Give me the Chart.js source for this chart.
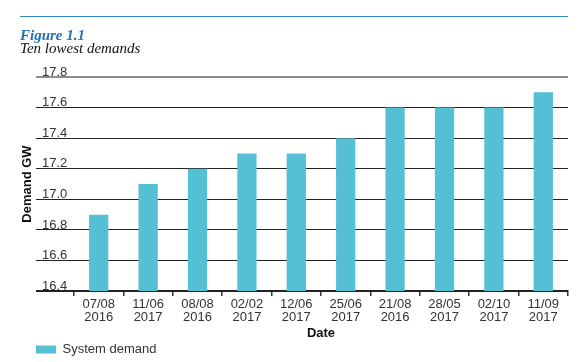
<!DOCTYPE html>
<html>
<head>
<meta charset="utf-8">
<script src="https://cdn.jsdelivr.net/npm/chart.js@4.4.0/dist/chart.umd.min.js"></script>
<style>
  html, body { margin: 0; padding: 0; background: #fff; }
  #wrap { position: relative; width: 586px; height: 362px; }
  #head { position: absolute; left: 20px; top: 16px; width: 548px; border-top: 1.5px solid #2f86c4; }
  #head .fig { font: italic bold 15px 'Liberation Serif', serif; color: #2270b5; margin-top: 12px; line-height: 13px; }
  #head .sub { font: italic 15px 'Liberation Serif', serif; color: #111; line-height: 13px; }
  canvas { position: absolute; left: 0; top: 0; }
</style>
</head>
<body>
<div id="wrap">
  <canvas id="c" width="586" height="362"></canvas>
  <div id="head">
    <div class="fig">Figure 1.1</div>
    <div class="sub">Ten lowest demands</div>
  </div>
</div>
<script>
// ---- data ----
const dates  = ['07/08', '11/06', '08/08', '02/02', '12/06', '25/06', '21/08', '28/05', '02/10', '11/09'];
const years  = ['2016', '2017', '2016', '2017', '2017', '2017', '2016', '2017', '2017', '2017'];
const demand = [16.9, 17.1, 17.2, 17.3, 17.3, 17.4, 17.6, 17.6, 17.6, 17.7];

const yMin = 16.4, yMax = 17.8, yStep = 0.2;

const FONT = "'Liberation Sans', Arial, sans-serif";
Chart.defaults.font.family = FONT;
Chart.defaults.color = '#333';

new Chart(document.getElementById('c').getContext('2d'), {
  type: 'bar',
  data: {
    labels: dates.map((d, i) => [d, years[i]]),
    datasets: [{
      label: 'System demand',
      data: demand,
      backgroundColor: '#55bfd4',
      borderWidth: 0,
      barPercentage: 0.39,
      categoryPercentage: 1
    }]
  },
  options: {
    responsive: false,
    animation: false,
    layout: { padding: { left: 36, right: 18, top: 77, bottom: 0 } },
    plugins: {
      legend: {
        position: 'bottom',
        align: 'start',
        maxHeight: 19,
        labels: { boxWidth: 20, boxHeight: 8, padding: 0, font: { size: 13 }, color: '#333' }
      },
      tooltip: { enabled: false }
    },
    scales: {
      x: {
        grid: { drawOnChartArea: false, drawTicks: true, tickLength: 5, color: '#333', lineWidth: 1.5, offset: true },
        border: { display: true, color: '#222', width: 2 },
        ticks: { font: { size: 13, lineHeight: 1.05 }, color: '#333', padding: 1, maxRotation: 0, autoSkip: false },
        title: { display: true, text: 'Date', font: { size: 13, weight: 'bold' }, color: '#111', padding: { top: 0, bottom: 2 } }
      },
      y: {
        min: yMin,
        max: yMax,
        afterFit: s => { s.width = 38; },
        ticks: {
          stepSize: yStep,
          mirror: true,
          crossAlign: 'near',
          padding: -32,
          labelOffset: -5,
          font: { size: 13 },
          color: '#333',
          callback: v => v.toFixed(1)
        },
        grid: {
          drawTicks: true,
          tickLength: 38,
          color: ctx => ctx.tick && Math.abs(ctx.tick.value - yMax) < 1e-6 ? '#8c8c8c' : '#222',
          lineWidth: ctx => ctx.tick && (Math.abs(ctx.tick.value - yMax) < 1e-6 || Math.abs(ctx.tick.value - yMin) < 1e-6) ? 2 : 1
        },
        border: { display: false },
        title: { display: true, text: 'Demand GW', font: { size: 13, weight: 'bold' }, color: '#111', padding: { top: -16, bottom: 0 } }
      }
    }
  }
});
</script>
</body>
</html>
